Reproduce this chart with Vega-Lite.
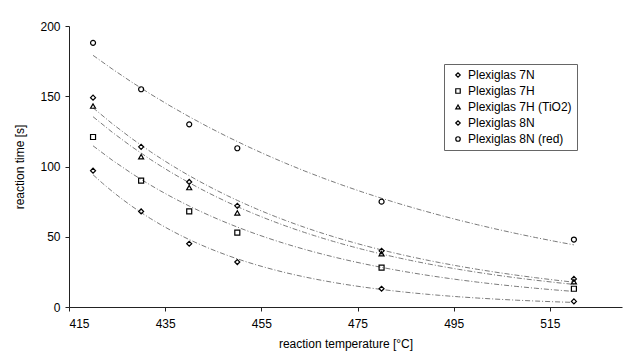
{
  "$schema": "https://vega.github.io/schema/vega-lite/v6.json",
  "width": 553,
  "height": 281,
  "autosize": {"type": "none"},
  "padding": {"left": 69, "top": 26, "right": 4, "bottom": 51},
  "background": "white",
  "config": {
    "view": {"stroke": null},
    "font": "Liberation Sans",
    "axis": {
      "grid": false,
      "domainColor": "#222",
      "tickColor": "#222",
      "tickSize": 4,
      "labelFontSize": 12,
      "labelColor": "black",
      "titleFontSize": 12,
      "titleFontWeight": "normal",
      "titleColor": "black"
    },
    "legend": {
      "labelFontSize": 12,
      "labelColor": "black"
    }
  },
  "data": {
    "values": [
      {"series": "Plexiglas 7N", "temp": 420, "time": 97},
      {"series": "Plexiglas 7N", "temp": 430, "time": 68},
      {"series": "Plexiglas 7N", "temp": 440, "time": 45},
      {"series": "Plexiglas 7N", "temp": 450, "time": 32},
      {"series": "Plexiglas 7N", "temp": 480, "time": 13},
      {"series": "Plexiglas 7N", "temp": 520, "time": 4},
      {"series": "Plexiglas 7H", "temp": 420, "time": 121},
      {"series": "Plexiglas 7H", "temp": 430, "time": 90},
      {"series": "Plexiglas 7H", "temp": 440, "time": 68},
      {"series": "Plexiglas 7H", "temp": 450, "time": 53},
      {"series": "Plexiglas 7H", "temp": 480, "time": 28},
      {"series": "Plexiglas 7H", "temp": 520, "time": 13},
      {"series": "Plexiglas 7H (TiO2)", "temp": 420, "time": 143},
      {"series": "Plexiglas 7H (TiO2)", "temp": 430, "time": 107},
      {"series": "Plexiglas 7H (TiO2)", "temp": 440, "time": 85},
      {"series": "Plexiglas 7H (TiO2)", "temp": 450, "time": 67},
      {"series": "Plexiglas 7H (TiO2)", "temp": 480, "time": 38},
      {"series": "Plexiglas 7H (TiO2)", "temp": 520, "time": 18},
      {"series": "Plexiglas 8N", "temp": 420, "time": 149},
      {"series": "Plexiglas 8N", "temp": 430, "time": 114},
      {"series": "Plexiglas 8N", "temp": 440, "time": 89},
      {"series": "Plexiglas 8N", "temp": 450, "time": 72},
      {"series": "Plexiglas 8N", "temp": 480, "time": 40},
      {"series": "Plexiglas 8N", "temp": 520, "time": 20},
      {"series": "Plexiglas 8N (red)", "temp": 420, "time": 188},
      {"series": "Plexiglas 8N (red)", "temp": 430, "time": 155},
      {"series": "Plexiglas 8N (red)", "temp": 440, "time": 130},
      {"series": "Plexiglas 8N (red)", "temp": 450, "time": 113},
      {"series": "Plexiglas 8N (red)", "temp": 480, "time": 75},
      {"series": "Plexiglas 8N (red)", "temp": 520, "time": 48}
    ]
  },
  "encoding": {
    "x": {
      "field": "temp",
      "type": "quantitative",
      "scale": {"domain": [415, 530], "nice": false, "zero": false},
      "axis": {"values": [415, 435, 455, 475, 495, 515], "title": "reaction temperature [°C]", "labelPadding": 7, "titlePadding": 9}
    },
    "y": {
      "field": "time",
      "type": "quantitative",
      "scale": {"domain": [0, 200], "nice": false},
      "axis": {"values": [0, 50, 100, 150, 200], "title": "reaction time [s]", "labelPadding": 5, "titlePadding": 13}
    }
  },
  "layer": [
    {
      "transform": [
        {"regression": "time", "on": "temp", "groupby": ["series"], "method": "exp", "extent": [420, 520]}
      ],
      "mark": {"type": "line", "stroke": "#7a7a7a", "strokeWidth": 1, "strokeDash": [5, 2, 1, 2]},
      "encoding": {
        "detail": {"field": "series"}
      }
    },
    {
      "mark": {"type": "point", "filled": false, "color": "black", "strokeWidth": 1.2, "size": 25, "opacity": 1},
      "encoding": {
        "shape": {
          "field": "series",
          "type": "nominal",
          "scale": {
            "domain": ["Plexiglas 7N", "Plexiglas 7H", "Plexiglas 7H (TiO2)", "Plexiglas 8N", "Plexiglas 8N (red)"],
            "range": ["diamond", "square", "triangle-up", "diamond", "circle"]
          },
          "legend": {
            "title": null,
            "orient": "none",
            "legendX": 375,
            "legendY": 38,
            "strokeColor": "#666",
            "padding": 5,
            "rowPadding": 4,
            "symbolSize": 20,
            "symbolStrokeColor": "black",
            "symbolStrokeWidth": 1.2,
            "symbolOffset": 3,
            "labelOffset": 4
          }
        }
      }
    }
  ]
}
